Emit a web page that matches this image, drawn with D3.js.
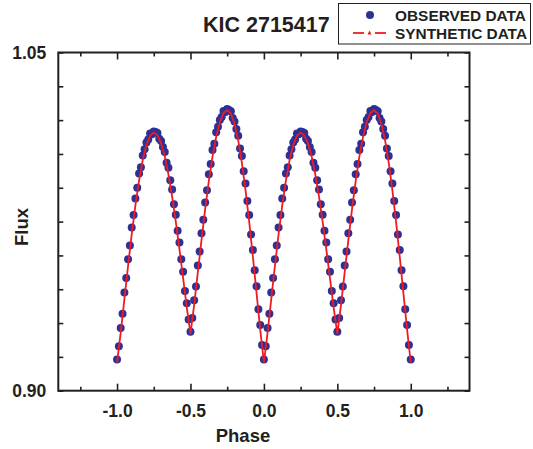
<!DOCTYPE html>
<html><head><meta charset="utf-8">
<script src="https://cdn.jsdelivr.net/npm/d3@7"></script>
<style>
html,body{margin:0;padding:0;background:#fff;}
svg{display:block;font-family:"Liberation Sans",Arial,sans-serif;}
</style></head>
<body>
<svg id="chart" width="533" height="449"></svg>
<script>
// ---- data (one phase cycle 0..1, folded onto -1..1) ----
const obsPhase = [0.0000,0.0125,0.0250,0.0375,0.0500,0.0625,0.0750,0.0875,0.1000,0.1125,0.1250,0.1375,0.1500,0.1625,0.1750,0.1875,0.2000,0.2125,0.2250,0.2375,
0.2500,0.2625,0.2750,0.2875,0.3000,0.3125,0.3250,0.3375,0.3500,0.3625,0.3750,0.3875,0.4000,0.4125,0.4250,0.4375,0.4500,0.4625,0.4750,0.4875,
0.5000,0.5125,0.5250,0.5375,0.5500,0.5625,0.5750,0.5875,0.6000,0.6125,0.6250,0.6375,0.6500,0.6625,0.6750,0.6875,0.7000,0.7125,0.7250,0.7375,
0.7500,0.7625,0.7750,0.7875,0.8000,0.8125,0.8250,0.8375,0.8500,0.8625,0.8750,0.8875,0.9000,0.9125,0.9250,0.9375,0.9500,0.9625,0.9750,0.9875];
const obsFlux = [0.9138,0.9197,0.9278,0.9341,0.9436,0.9500,0.9583,0.9644,0.9724,0.9779,0.9852,0.9900,0.9963,0.9991,1.0043,1.0071,1.0101,1.0114,1.0141,1.0137,
1.0150,1.0147,1.0143,1.0118,1.0107,1.0081,1.0059,1.0011,0.9989,0.9933,0.9892,0.9827,0.9780,0.9709,0.9657,0.9583,0.9528,0.9442,0.9388,0.9316,
0.9262,0.9322,0.9401,0.9462,0.9555,0.9617,0.9698,0.9758,0.9835,0.9889,0.9960,1.0006,1.0068,1.0095,1.0146,1.0171,1.0201,1.0214,1.0241,1.0236,
1.0249,1.0245,1.0239,1.0210,1.0194,1.0161,1.0131,1.0074,1.0041,0.9973,0.9919,0.9841,0.9779,0.9693,0.9624,0.9534,0.9463,0.9361,0.9291,0.9203];
const synPhase = [0.000,0.025,0.050,0.075,0.100,0.125,0.150,0.175,0.200,0.225,0.250,0.275,0.300,0.325,0.350,0.375,0.400,0.425,0.450,0.475,
0.500,0.525,0.550,0.575,0.600,0.625,0.650,0.675,0.700,0.725,0.750,0.775,0.800,0.825,0.850,0.875,0.900,0.925,0.950,0.975,1.000];
const synFlux = [0.9125,0.9258,0.9406,0.9553,0.9694,0.9822,0.9933,1.0023,1.0090,1.0131,1.0145,1.0133,1.0097,1.0039,0.9959,0.9862,0.9750,0.9627,0.9498,0.9368,
0.9252,0.9381,0.9525,0.9668,0.9805,0.9930,1.0038,1.0126,1.0191,1.0231,1.0244,1.0229,1.0184,1.0111,1.0011,0.9889,0.9749,0.9594,0.9433,0.9271,0.9125];
const xTicks = [-1.0,-0.5,0.0,0.5,1.0];
const xMinorTicks = [-1.25,-0.75,-0.25,0.25,0.75,1.25];
const yTicks = [0.90,0.915,0.93,0.945,0.96,0.975,0.99,1.005,1.02,1.035,1.05];
const yLabels = [0.90,1.05];
const titleText = "KIC 2715417";
const legendLabels = ["OBSERVED DATA","SYNTHETIC DATA"];

// ---- layout ----
const L = 58.3, R = 469.5, T = 52.5, B = 390.7;
const x = d3.scaleLinear().domain([-1.4,1.4]).range([L,R]);
const y = d3.scaleLinear().domain([0.90,1.05]).range([B,T]);
const svg = d3.select("#chart");
const axisCol = "#231f20", dotCol = "#2e3192", lineCol = "#ed1c24";

// folded observed points
const obs = [];
[-1,0,1].forEach(s=>obsPhase.forEach((p,i)=>{const q=p+s; if(q>=-1.0001 && q<=1.0001) obs.push([q,obsFlux[i]]);}));
const syn = [];
[-1,0].forEach(s=>synPhase.forEach((p,i)=>{ if(s===0 && i===0) return; syn.push([p+s,synFlux[i]]);}));

// dots
svg.append("g").selectAll("circle").data(obs).join("circle")
  .attr("cx",d=>x(d[0])).attr("cy",d=>y(d[1])).attr("r",4).attr("fill",dotCol);
// synthetic line
svg.append("path").datum(syn)
  .attr("d",d3.line().x(d=>x(d[0])).y(d=>y(d[1])))
  .attr("fill","none").attr("stroke",lineCol).attr("stroke-width",1.8);

// axes (ticks inward)
const fmt2 = d3.format(".2f"), fmt1 = d3.format(".1f");
const axB = d3.axisBottom(x).tickValues(xTicks).tickSize(-7).tickPadding(14).tickFormat(d=>fmt1(d).replace("\u2212","-"));
const axBm = d3.axisBottom(x).tickValues(xMinorTicks).tickSize(-4).tickFormat("");
const axT = d3.axisTop(x).tickValues(xTicks).tickSize(-7).tickFormat("");
const axTm = d3.axisTop(x).tickValues(xMinorTicks).tickSize(-4).tickFormat("");
const axL = d3.axisLeft(y).tickValues(yTicks).tickSize(-5).tickPadding(12).tickFormat(d=>yLabels.some(v=>Math.abs(v-d)<1e-9)?fmt2(d):"");
const axR = d3.axisRight(y).tickValues(yTicks).tickSize(-5).tickFormat("");

function style(g){
  g.selectAll(".domain").remove();
  g.selectAll(".tick line").attr("stroke",axisCol).attr("stroke-width",1.6);
  g.selectAll(".tick text").attr("fill",axisCol).attr("font-size","17.5px").attr("font-weight","bold")
    .attr("font-family","'Liberation Sans',Arial,sans-serif");
}
svg.append("g").attr("transform",`translate(0,${B})`).call(axB).call(style);
svg.append("g").attr("transform",`translate(0,${B})`).call(axBm).call(style);
svg.append("g").attr("transform",`translate(0,${T})`).call(axT).call(style);
svg.append("g").attr("transform",`translate(0,${T})`).call(axTm).call(style);
svg.append("g").attr("transform",`translate(${L},0)`).call(axL).call(style);
svg.append("g").attr("transform",`translate(${R},0)`).call(axR).call(style);

// frame
svg.append("rect").attr("x",L).attr("y",T).attr("width",R-L).attr("height",B-T)
  .attr("fill","none").attr("stroke",axisCol).attr("stroke-width",2);

// axis titles
svg.append("text").attr("x",243).attr("y",441.5).attr("text-anchor","middle")
  .attr("font-size","18.5px").attr("font-weight","bold").attr("fill",axisCol).text("Phase");
svg.append("text").attr("transform","translate(28,227) rotate(-90)").attr("text-anchor","middle")
  .attr("font-size","18.5px").attr("font-weight","bold").attr("fill",axisCol).text("Flux");

// title
svg.append("text").attr("x",203).attr("y",31.5).attr("font-size","21.5px").attr("font-weight","bold")
  .attr("fill",axisCol).text(titleText);

// legend
const lg = svg.append("g");
lg.append("rect").attr("x",338.5).attr("y",3.5).attr("width",192).attr("height",40.5)
  .attr("fill","#fff").attr("stroke",axisCol).attr("stroke-width",1);
lg.append("circle").attr("cx",370).attr("cy",15).attr("r",4).attr("fill",dotCol);
lg.append("line").attr("x1",353).attr("x2",364).attr("y1",33).attr("y2",33).attr("stroke",lineCol).attr("stroke-width",1.8);
lg.append("line").attr("x1",375).attr("x2",386).attr("y1",33).attr("y2",33).attr("stroke",lineCol).attr("stroke-width",1.8);
lg.append("path").attr("d","M367.5,34.5 L369.5,30.5 L371.5,34.5 Z").attr("fill",lineCol);
lg.selectAll("text.lab").data(legendLabels).join("text").attr("class","lab")
  .attr("x",395).attr("y",(d,i)=>i===0?20.5:39).attr("font-size","15px").attr("font-weight","bold")
  .attr("fill",axisCol).attr("textLength",(d,i)=>i===0?131:132).attr("lengthAdjust","spacingAndGlyphs").text(d=>d);
</script>
</body></html>
